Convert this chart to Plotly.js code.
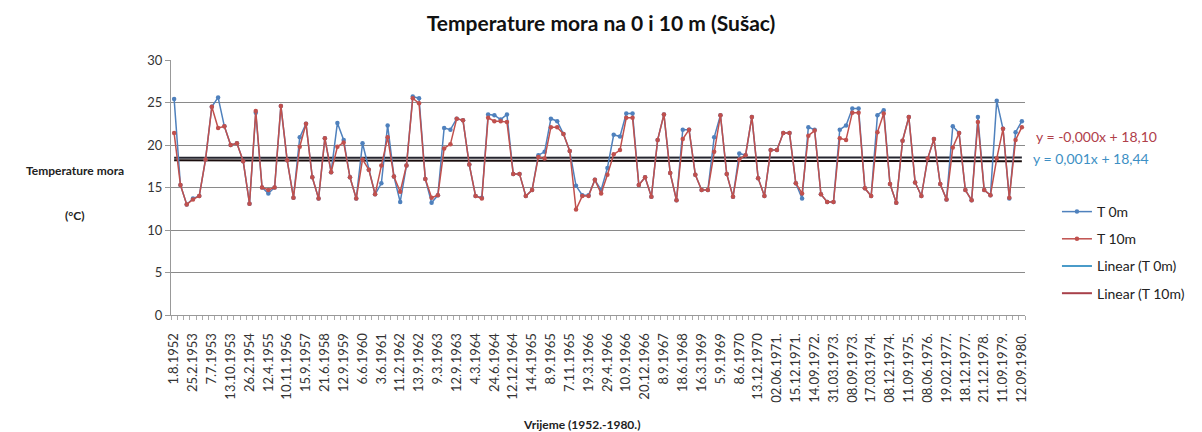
<!DOCTYPE html>
<html>
<head>
<meta charset="utf-8">
<script src="https://cdn.plot.ly/plotly-3.0.1.min.js"></script>
<style>html,body{margin:0;padding:0;background:#fff;}#chart{width:1202px;height:432px;}</style>
</head>
<body>
<div id="chart"></div>
<script>
// Tick labels (every third measurement date is labelled)
const tickLabels = ["1.8.1952","25.2.1953","7.7.1953","13.10.1953","26.2.1954","12.4.1955","10.11.1956","15.9.1957","21.6.1958","12.9.1959","6.6.1960","3.6.1961","11.2.1962","13.9.1962","9.3.1963","12.9.1963","4.3.1964","24.6.1964","12.12.1964","14.4.1965","8.9.1965","7.11.1965","19.3.1966","29.4.1966","10.9.1966","20.12.1966","8.9.1967","18.6.1968","16.3.1969","5.9.1969","8.6.1970","13.12.1970","02.06.1971.","15.12.1971.","14.09.1972.","31.03.1973.","08.09.1973.","17.03.1974.","08.12.1974.","11.09.1975.","08.06.1976.","19.02.1977.","18.12.1977.","21.12.1978.","11.09.1979.","12.09.1980."];

// Sea temperature at 0 m
const t0m = [25.4,15.3,13.0,13.7,14.0,18.3,24.5,25.6,22.2,20.0,20.2,18.1,13.1,23.8,15.0,14.3,15.0,24.6,18.2,13.8,
20.9,22.5,16.2,13.7,20.8,16.8,22.6,20.6,16.2,13.7,20.2,17.1,14.2,15.5,22.3,16.3,13.3,17.6,25.7,25.5,
16.0,13.2,14.1,22.0,21.8,23.1,22.9,17.7,14.0,13.8,23.6,23.5,23.0,23.6,16.6,16.6,14.0,14.7,18.8,19.2,
23.1,22.8,21.3,19.3,15.2,14.1,14.1,15.9,14.7,17.3,21.2,21.0,23.7,23.7,15.3,16.2,13.9,20.6,23.6,16.7,
13.5,21.8,21.8,16.5,14.7,14.7,20.9,23.5,16.6,13.9,19.0,18.8,23.3,16.1,14.0,19.4,19.4,21.4,21.4,15.5,
13.7,22.1,21.8,14.2,13.3,13.3,21.8,22.3,24.3,24.3,14.9,14.0,23.5,24.1,15.4,13.2,20.5,23.3,15.6,14.0,
18.4,20.7,15.4,13.6,22.2,21.4,14.7,13.5,23.3,14.7,14.1,25.2,21.9,13.7,21.5,22.8];

// Sea temperature at 10 m
const t10m = [21.4,15.3,13.0,13.6,14.0,18.3,24.5,22.0,22.2,20.0,20.2,18.1,13.1,24.0,15.0,14.7,15.0,24.6,18.2,13.8,
19.8,22.5,16.2,13.7,20.8,16.8,19.8,20.3,16.2,13.7,18.3,17.1,14.2,17.6,20.9,16.3,14.5,17.6,25.5,24.9,
16.0,13.8,14.1,19.6,20.1,23.1,22.9,17.7,14.0,13.7,23.2,22.8,22.8,22.7,16.6,16.6,14.0,14.7,18.6,18.4,
22.1,22.1,21.3,19.3,12.4,14.0,14.0,15.9,14.3,16.5,18.9,19.4,23.2,23.2,15.3,16.2,13.9,20.6,23.6,16.7,
13.5,20.7,21.8,16.5,14.7,14.7,19.2,23.5,16.6,13.9,18.3,18.8,23.3,16.1,14.0,19.4,19.4,21.4,21.4,15.5,
14.3,21.1,21.7,14.2,13.3,13.3,20.8,20.6,23.8,23.8,14.9,14.0,21.5,23.7,15.4,13.2,20.5,23.3,15.6,14.0,
18.4,20.7,15.4,13.6,19.7,21.4,14.7,13.5,22.7,14.7,14.1,18.4,21.9,13.8,20.6,22.1];

const seriesNames = ["T 0m","T 10m","Linear (T 0m)","Linear (T 10m)"];
const equationTexts = ["y = -0,000x + 18,10","y = 0,001x + 18,44"];

const idx = t0m.map((_, i) => i);
const tickVals = tickLabels.map((_, k) => k * 3);

function linearFit(ys) {
  const n = ys.length;
  let sx = 0, sy = 0, sxx = 0, sxy = 0;
  ys.forEach((y, i) => { const x = i + 1; sx += x; sy += y; sxx += x * x; sxy += x * y; });
  const a = (n * sxy - sx * sy) / (n * sxx - sx * sx);
  const b = (sy - a * sx) / n;
  return ys.map((_, i) => a * (i + 1) + b);
}

const blue = '#4f81bd', red = '#c0504d';
const traces = [
  {x: idx, y: linearFit(t0m), mode: 'lines', line: {color: '#262630', width: 2}, showlegend: false, hoverinfo: 'skip'},
  {x: idx, y: linearFit(t10m), mode: 'lines', line: {color: '#1a0d0d', width: 2}, showlegend: false, hoverinfo: 'skip'},
  {x: idx, y: t0m, name: seriesNames[0], mode: 'lines+markers', line: {color: blue, width: 1.5}, marker: {color: blue, size: 4.5}, legendgroup: 'a'},
  {x: idx, y: t10m, name: seriesNames[1], mode: 'lines+markers', line: {color: red, width: 1.5}, marker: {color: red, size: 4.5}, legendgroup: 'b'},
  {x: [null], y: [null], name: seriesNames[2], mode: 'lines', line: {color: '#4a9bc9', width: 2}, legendgroup: 'c'},
  {x: [null], y: [null], name: seriesNames[3], mode: 'lines', line: {color: '#a8404a', width: 2}, legendgroup: 'd'}
];

const font = 'Lato, "Open Sans", sans-serif';
const L = 171, W = 882, T = 60, H = 255;
const px = x => (x - L) / W;
const py = y => (T + H - y) / H;
const layout = {
  width: 1202, height: 432,
  margin: {l: L, r: 1202 - L - W, t: T, b: 432 - T - H},
  paper_bgcolor: '#fff', plot_bgcolor: '#fff',
  font: {family: font, color: '#222', size: 12},
  title: {text: '<b>Temperature mora na 0 i 10 m (Sušac)</b>', font: {family: font, size: 21, color: '#111'}, x: 0.5, xanchor: 'center', y: 0.945, yanchor: 'middle'},
  xaxis: {
    range: [-0.5, idx.length - 0.5], tickmode: 'array', tickvals: tickVals, ticktext: tickLabels,
    tickangle: -90, ticks: '', tickfont: {size: 13, color: '#333'}, ticklabelstandoff: 12,
    showgrid: false, zeroline: false, showline: true, linecolor: '#999', linewidth: 1,
    minor: {tickmode: 'linear', tick0: -0.5, dtick: 1, ticks: 'outside', ticklen: 4, tickcolor: '#aaa', showgrid: false},
    fixedrange: true
  },
  yaxis: {
    range: [0, 30], dtick: 5, tickfont: {size: 13, color: '#333'},
    showgrid: true, gridcolor: '#8a8a8a', gridwidth: 1, zeroline: false,
    showline: true, linecolor: '#999', linewidth: 1, ticks: 'outside', ticklen: 5, tickcolor: '#999',
    fixedrange: true
  },
  legend: {x: px(1086), xanchor: 'left', y: py(196), yanchor: 'top', font: {size: 14, color: '#222'}, tracegroupgap: 6, bgcolor: 'rgba(0,0,0,0)'},
  annotations: [
    {xref: 'paper', yref: 'paper', x: px(1062), y: py(136), xanchor: 'left', yanchor: 'middle', text: equationTexts[0], showarrow: false, font: {size: 14, color: '#b0404a'}},
    {xref: 'paper', yref: 'paper', x: px(1059), y: py(158), xanchor: 'left', yanchor: 'middle', text: equationTexts[1], showarrow: false, font: {size: 14, color: '#3d8fc4'}},
    {xref: 'paper', yref: 'paper', x: px(72), y: py(170), xanchor: 'center', yanchor: 'middle', text: '<b>Temperature mora</b>', showarrow: false, font: {size: 12, color: '#222'}},
    {xref: 'paper', yref: 'paper', x: px(72), y: py(215), xanchor: 'center', yanchor: 'middle', text: '<b>(°C)</b>', showarrow: false, font: {size: 12, color: '#222'}},
    {xref: 'paper', yref: 'paper', x: px(595), y: py(424), xanchor: 'center', yanchor: 'middle', text: '<b>Vrijeme (1952.-1980.)</b>', showarrow: false, font: {size: 12, color: '#222'}}
  ],
  showlegend: true
};

Plotly.newPlot('chart', traces, layout, {displayModeBar: false, staticPlot: true});
</script>
</body>
</html>
